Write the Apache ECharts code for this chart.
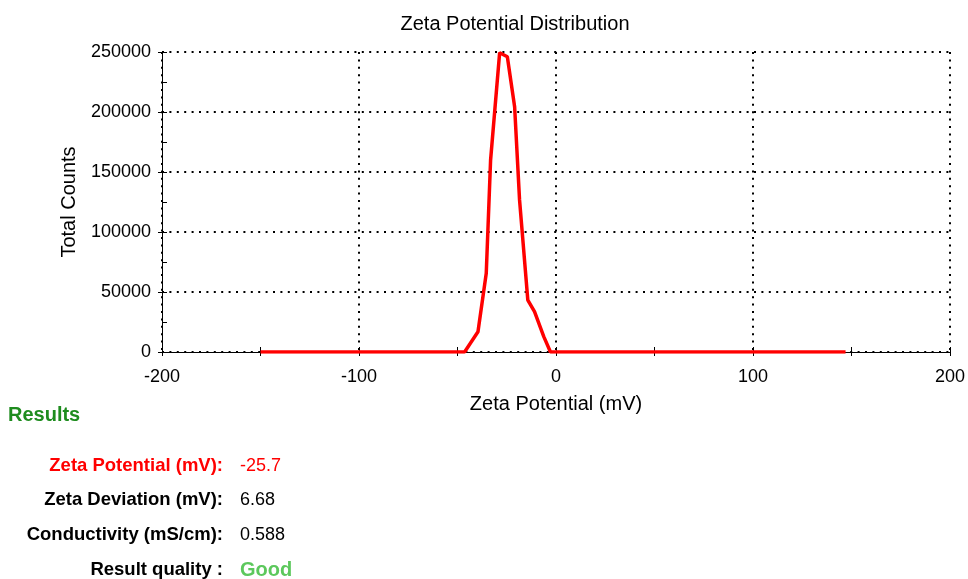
<!DOCTYPE html>
<html>
<head>
<meta charset="utf-8">
<script src="https://cdn.jsdelivr.net/npm/echarts@6/dist/echarts.min.js"></script>
<style>
html,body{margin:0;padding:0;background:#fff;}
#chart{width:968px;height:579px;}
</style>
</head>
<body>
<div id="chart"></div>
<script>
// Data
var zetaMV = [-150, -46.4, -39.6, -35.4, -33.2, -28.6, -24.7, -21.0, -18.5, -14.3, -10.9, -6.2, -2.8, 147];
var totalCounts = [0, 0, 16900, 65600, 160000, 249400, 246000, 204400, 126700, 43300, 33600, 12800, 0, 0];
var resultLabels = ['Zeta Potential (mV):', 'Zeta Deviation (mV):', 'Conductivity (mS/cm):', 'Result quality :'];
var resultValues = ['-25.7', '6.68', '0.588', 'Good'];
var resultLabelColors = ['#ff0000', '#000000', '#000000', '#000000'];
var resultValueColors = ['#ff0000', '#000000', '#000000', '#5cc85c'];
var resultRowY = [466, 500, 535, 570];

var chart = echarts.init(document.getElementById('chart'));
var FONT = '"Liberation Sans", Arial, sans-serif';

var points = zetaMV.map(function (x, i) { return [x, totalCounts[i]]; });

var graphics = [{
  type: 'text', x: 8, y: 415,
  style: { text: 'Results', fill: '#1e8c1e', font: 'bold 20px ' + FONT, verticalAlign: 'middle' }
}];
resultLabels.forEach(function (lab, i) {
  graphics.push({
    type: 'text', x: 223, y: resultRowY[i],
    style: { text: lab, fill: resultLabelColors[i], font: 'bold 18.5px ' + FONT, align: 'right', verticalAlign: 'middle' }
  });
  graphics.push({
    type: 'text', x: 240, y: resultRowY[i],
    style: { text: resultValues[i], fill: resultValueColors[i], font: (i === 3 ? 'bold 20px ' : '18px ') + FONT, align: 'left', verticalAlign: 'middle' }
  });
});

var dotted = { color: '#000', width: 2, type: [2, 5.4] };
var tickStyle = { color: '#000', width: 1 };

chart.setOption({
  animation: false,
  backgroundColor: '#fff',
  title: {
    text: 'Zeta Potential Distribution',
    left: 510, top: 9, textAlign: 'center',
    textStyle: { fontFamily: FONT, fontSize: 20, fontWeight: 'normal', color: '#000' }
  },
  grid: { left: 162, right: 17, top: 52, bottom: 227 },
  xAxis: [{
    type: 'value', min: -200, max: 200, interval: 100, position: 'bottom',
    name: 'Zeta Potential (mV)', nameLocation: 'middle', nameGap: 42,
    nameTextStyle: { fontFamily: FONT, fontSize: 20, color: '#000' },
    axisLine: { show: true, onZero: false, lineStyle: { color: '#000', width: 1 } },
    axisTick: { show: true, inside: false, length: 4, lineStyle: tickStyle },
    minorTick: { show: true, splitNumber: 2, length: 4, lineStyle: tickStyle },
    axisLabel: { fontFamily: FONT, fontSize: 18, color: '#000', margin: 16 },
    splitLine: { show: true, lineStyle: dotted }
  }, {
    type: 'value', min: -200, max: 200, interval: 100, position: 'bottom', offset: 0,
    axisLine: { show: false, onZero: false },
    axisTick: { show: true, inside: true, length: 5, lineStyle: tickStyle },
    minorTick: { show: true, splitNumber: 2, length: 5, lineStyle: tickStyle },
    axisLabel: { show: false },
    splitLine: { show: false }
  }],
  yAxis: [{
    type: 'value', min: 0, max: 250000, interval: 50000, position: 'left',
    name: 'Total Counts', nameLocation: 'middle', nameGap: 83, nameRotate: 90,
    nameTextStyle: { fontFamily: FONT, fontSize: 20, color: '#000' },
    axisLine: { show: true, onZero: false, lineStyle: { color: '#000', width: 1 } },
    axisTick: { show: true, inside: false, length: 4, lineStyle: tickStyle },
    axisLabel: { fontFamily: FONT, fontSize: 18, color: '#000', margin: 11, formatter: function (v) { return String(v); } },
    splitLine: { show: true, lineStyle: dotted }
  }, {
    type: 'value', min: 0, max: 250000, interval: 50000, position: 'left', offset: 0,
    axisLine: { show: false, onZero: false },
    axisTick: { show: true, inside: true, length: 5, lineStyle: tickStyle },
    minorTick: { show: true, splitNumber: 2, length: 5, lineStyle: tickStyle },
    axisLabel: { show: false },
    splitLine: { show: false }
  }],
  series: [{
    type: 'line', data: points, xAxisIndex: 0, yAxisIndex: 0, showSymbol: false, symbol: 'none',
    lineStyle: { color: '#ff0000', width: 3.5 }, z: 5
  }],
  graphic: graphics
});
</script>
</body>
</html>
